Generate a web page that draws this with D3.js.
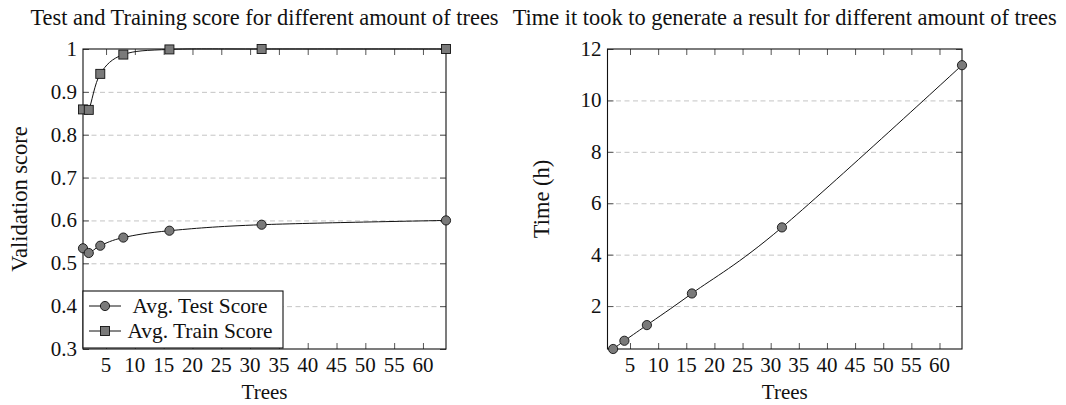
<!DOCTYPE html>
<html>
<head>
<meta charset="utf-8">
<script src="https://cdn.jsdelivr.net/npm/d3@7"></script>
<style>
  body { margin: 0; background: #fff; }
  svg text { font-family: "Liberation Serif", "DejaVu Serif", serif; fill: #111; }
</style>
</head>
<body>
<svg id="chart" width="1066" height="405"></svg>
<script>
// data
const scoreTrees = [1, 2, 4, 8, 16, 32, 64];
const testScore = [0.535, 0.524, 0.541, 0.560, 0.576, 0.590, 0.600];
const trainScore = [0.859, 0.858, 0.942, 0.987, 0.999, 1.0, 1.0];

const timeTrees = [2, 4, 8, 16, 32, 64];
const timeHours = [0.33, 0.65, 1.26, 2.49, 5.06, 11.37];

const treeTicks = [5, 10, 15, 20, 25, 30, 35, 40, 45, 50, 55, 60];
const scoreTicks = [0.3, 0.4, 0.5, 0.6, 0.7, 0.8, 0.9, 1];
const scoreTickLabels = ["0.3", "0.4", "0.5", "0.6", "0.7", "0.8", "0.9", "1"];
const timeTicks = [2, 4, 6, 8, 10, 12];

const legendLabels = ["Avg. Test Score", "Avg. Train Score"];

const svg = d3.select("#chart");

function drawPanel(cfg) {
    const g = svg.append("g");
    const x = d3.scaleLinear().domain([1, 64]).range([cfg.left, cfg.right]);
    const y = d3.scaleLinear().domain(cfg.yDomain).range([cfg.bottom, cfg.top]);

    // dashed grid
    g.append("g")
     .attr("transform", "translate(" + cfg.left + ",0)")
     .call(d3.axisLeft(y).tickValues(cfg.yTicks.filter(function (t) {
         return t > cfg.yDomain[0] && t < cfg.yDomain[1];
     })).tickSize(-(cfg.right - cfg.left)).tickFormat(""))
     .call(function (a) { a.select(".domain").remove(); })
     .selectAll("line")
     .attr("stroke", "#c4c4c4")
     .attr("stroke-width", 1)
     .attr("stroke-dasharray", "5,3.5");

    // inward tick marks on all four sides
    const tickLen = 6;
    const sides = [
        [d3.axisBottom(x).tickValues(treeTicks), "translate(0," + cfg.bottom + ")"],
        [d3.axisTop(x).tickValues(treeTicks), "translate(0," + cfg.top + ")"],
        [d3.axisLeft(y).tickValues(cfg.yTicks), "translate(" + cfg.left + ",0)"],
        [d3.axisRight(y).tickValues(cfg.yTicks), "translate(" + cfg.right + ",0)"]
    ];
    sides.forEach(function (s) {
        g.append("g")
         .attr("transform", s[1])
         .call(s[0].tickSize(-tickLen).tickSizeOuter(0).tickFormat(""))
         .call(function (a) { a.select(".domain").remove(); })
         .selectAll("line")
         .attr("stroke", "#555")
         .attr("stroke-width", 1);
    });

    // tick labels
    g.append("g")
     .selectAll("text")
     .data(treeTicks)
     .enter()
     .append("text")
     .attr("x", function (d) { return x(d); })
     .attr("y", cfg.bottom + 23)
     .attr("text-anchor", "middle")
     .style("font-size", "21px")
     .text(function (d) { return d; });

    g.append("g")
     .selectAll("text")
     .data(cfg.yTicks)
     .enter()
     .append("text")
     .attr("x", cfg.left - 6)
     .attr("y", function (d) { return y(d) + 7; })
     .attr("text-anchor", "end")
     .style("font-size", "21px")
     .text(function (d, i) { return cfg.yTickLabels[i]; });

    // frame
    g.append("rect")
     .attr("x", cfg.left)
     .attr("y", cfg.top)
     .attr("width", cfg.right - cfg.left)
     .attr("height", cfg.bottom - cfg.top)
     .attr("fill", "none")
     .attr("stroke", "#111")
     .attr("stroke-width", 1.1);

    // titles
    g.append("text")
     .attr("x", (cfg.left + cfg.right) / 2)
     .attr("y", 25)
     .attr("text-anchor", "middle")
     .style("font-size", "22.4px")
     .text(cfg.title);

    g.append("text")
     .attr("x", (cfg.left + cfg.right) / 2)
     .attr("y", 399)
     .attr("text-anchor", "middle")
     .style("font-size", "21px")
     .text("Trees");

    g.append("text")
     .attr("transform", "translate(" + cfg.yLabelX + "," + ((cfg.top + cfg.bottom) / 2) + ")rotate(-90)")
     .attr("text-anchor", "middle")
     .style("font-size", "22.5px")
     .text(cfg.yLabel);

    const line = d3.line()
                   .x(function (d) { return x(d[0]); })
                   .y(function (d) { return y(d[1]); })
                   .curve(d3.curveCardinal.tension(0));

    cfg.series.forEach(function (s) {
        const pts = d3.zip(s.xs, s.ys);
        g.append("path")
         .datum(pts)
         .attr("d", line)
         .attr("fill", "none")
         .attr("stroke", "#111")
         .attr("stroke-width", 1);
        drawMarkers(g, pts.map(function (p) { return [x(p[0]), y(p[1])]; }), s.marker);
    });

    return {x: x, y: y, g: g};
}

function drawMarkers(g, pts, kind) {
    if (kind === "square") {
        g.selectAll(null)
         .data(pts)
         .enter()
         .append("rect")
         .attr("x", function (d) { return d[0] - 4.5; })
         .attr("y", function (d) { return d[1] - 4.5; })
         .attr("width", 9)
         .attr("height", 9)
         .attr("fill", "#7a7a7a")
         .attr("stroke", "#111")
         .attr("stroke-width", 0.9);
    } else {
        g.selectAll(null)
         .data(pts)
         .enter()
         .append("circle")
         .attr("cx", function (d) { return d[0]; })
         .attr("cy", function (d) { return d[1]; })
         .attr("r", 4.6)
         .attr("fill", "#7a7a7a")
         .attr("stroke", "#111")
         .attr("stroke-width", 0.9);
    }
}

const left = drawPanel({
    left: 83, right: 446, top: 49, bottom: 349,
    yDomain: [0.3, 1],
    yTicks: scoreTicks,
    yTickLabels: scoreTickLabels,
    title: "Test and Training score for different amount of trees",
    yLabel: "Validation score",
    yLabelX: 27,
    series: [
        {xs: scoreTrees, ys: testScore, marker: "circle"},
        {xs: scoreTrees, ys: trainScore, marker: "square"}
    ]
});

drawPanel({
    left: 607.5, right: 962, top: 49, bottom: 349,
    yDomain: [d3.min(timeHours), 12],
    yTicks: timeTicks,
    yTickLabels: timeTicks.map(String),
    title: "Time it took to generate a result for different amount of trees",
    yLabel: "Time (h)",
    yLabelX: 549,
    series: [
        {xs: timeTrees, ys: timeHours, marker: "circle"}
    ]
});

// legend in the lower left of the score panel
const legend = left.g.append("g");
legend.append("rect")
      .attr("x", 83)
      .attr("y", 291)
      .attr("width", 200)
      .attr("height", 57)
      .attr("fill", "#fff")
      .attr("stroke", "#111")
      .attr("stroke-width", 1.1);

["circle", "square"].forEach(function (kind, i) {
    const cy = 306 + i * 25;
    legend.append("line")
          .attr("x1", 89).attr("x2", 121)
          .attr("y1", cy).attr("y2", cy)
          .attr("stroke", "#111")
          .attr("stroke-width", 1);
    drawMarkers(legend, [[105, cy]], kind);
    legend.append("text")
          .attr("x", 200)
          .attr("y", cy + 6.5)
          .attr("text-anchor", "middle")
          .style("font-size", "21.4px")
          .text(legendLabels[i]);
});
</script>
</body>
</html>
